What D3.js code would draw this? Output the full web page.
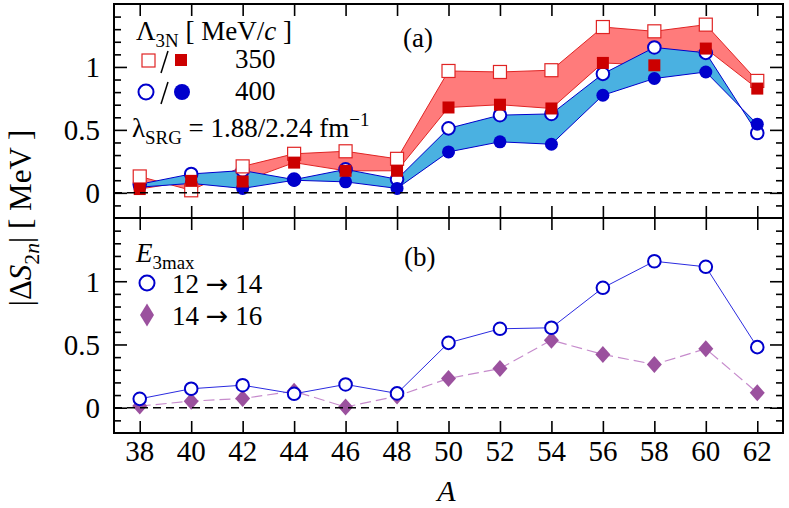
<!DOCTYPE html>
<html>
<head>
<meta charset="utf-8">
<script src="https://cdn.jsdelivr.net/npm/d3@7/dist/d3.min.js"></script>
<style>
  body { margin: 0; background: #fff; }
  svg { display: block; }
</style>
</head>
<body>
<svg id="chart" width="789" height="508"></svg>
<script>
'use strict';

// mass numbers
var massNumbers = [38, 40, 42, 44, 46, 48, 50, 52, 54, 56, 58, 60, 62];

// panel (a): Lambda_3N = 350 MeV/c, open = lambda 1.88, filled = lambda 2.24
var open350   = [0.13, 0.02, 0.21, 0.31, 0.33, 0.27, 0.968, 0.96, 0.974, 1.317, 1.283, 1.336, 0.889];
var filled350 = [0.03, 0.095, 0.09, 0.24, 0.175, 0.175, 0.678, 0.70, 0.67, 1.032, 1.013, 1.146, 0.828];
// panel (a): Lambda_3N = 400 MeV/c
var open400   = [0.068, 0.15, 0.177, 0.105, 0.186, 0.108, 0.512, 0.617, 0.627, 0.945, 1.155, 1.112, 0.475];
var filled400 = [0.045, 0.075, 0.035, 0.10, 0.087, 0.035, 0.325, 0.405, 0.386, 0.775, 0.908, 0.96, 0.545];

// panel (b): E3max convergence
var e3max12to14 = [0.07, 0.15, 0.178, 0.11, 0.184, 0.113, 0.513, 0.624, 0.632, 0.948, 1.158, 1.114, 0.479];
var e3max14to16 = [0.013, 0.052, 0.073, 0.131, 0.005, 0.092, 0.231, 0.31, 0.534, 0.421, 0.342, 0.466, 0.118];

var majorTicksY = [0, 0.5, 1];
var minorTicksY = [-0.1, 0.1, 0.2, 0.3, 0.4, 0.6, 0.7, 0.8, 0.9, 1.1, 1.2, 1.3, 1.4];

var FONT = '"Liberation Serif", "DejaVu Serif", "Noto Serif", "Times New Roman", serif';

var svg = d3.select('#chart').attr('font-family', FONT);

var left = 114, right = 783;
var x = d3.scaleLinear().domain([37, 63]).range([left, right]);
var yTop = d3.scaleLinear().domain([-0.2, 1.5]).range([218, 4]);
var yBot = d3.scaleLinear().domain([-0.2, 1.5]).range([433, 218]);

var redBand = '#ff7b7b', redLine = '#e02424', redDark = '#cc0000';
var blueBand = '#4ab1e1', blueLine = '#0000cc';
var purple = '#9b519e', purpleLine = '#c68bcc';

function seq(vals) {
    return vals.map(function(v, i) { return { a: massNumbers[i], v: v }; });
}

function txt(g, xp, yp, size) {
    return g.append('text').attr('x', xp).attr('y', yp)
        .style('font-family', FONT).style('font-size', size + 'px').attr('fill', '#000');
}

// rich text helper: parts = [text, {t, sub, sup, it, font}]
function rich(sel, parts, size) {
    var back = 0;
    parts.forEach(function(p) {
        if (typeof p === 'string') p = { t: p };
        var ts = sel.append('tspan').text(p.t);
        var dy = back;
        back = 0;
        if (p.it) ts.style('font-style', 'italic');
        if (p.font) ts.style('font-family', p.font);
        if (p.sub) {
            dy += size * 0.25; back = -size * 0.25;
            ts.style('font-size', (size * 0.7) + 'px');
        }
        if (p.sup) {
            dy -= size * 0.4; back = size * 0.4;
            ts.style('font-size', (size * 0.7) + 'px');
        }
        if (dy) ts.attr('dy', dy);
    });
    return sel;
}

function drawAxes(g, y) {
    var h = y.range();
    var xa = d3.axisBottom(x).tickValues(massNumbers).tickSizeInner(-12).tickSizeOuter(0).tickFormat('');
    var xt = d3.axisTop(x).tickValues(massNumbers).tickSizeInner(-12).tickSizeOuter(0).tickFormat('');
    g.append('g').attr('transform', 'translate(0,' + h[0] + ')').call(xa);
    g.append('g').attr('transform', 'translate(0,' + h[1] + ')').call(xt);

    var yl = d3.axisLeft(y).tickValues(majorTicksY).tickSizeInner(-13).tickSizeOuter(0).tickPadding(14).tickFormat(d3.format('~g'));
    var ylm = d3.axisLeft(y).tickValues(minorTicksY).tickSizeInner(-7).tickSizeOuter(0).tickFormat('');
    var yr = d3.axisRight(y).tickValues(majorTicksY).tickSizeInner(-13).tickSizeOuter(0).tickFormat('');
    var yrm = d3.axisRight(y).tickValues(minorTicksY).tickSizeInner(-7).tickSizeOuter(0).tickFormat('');
    g.append('g').attr('class', 'ylab').attr('transform', 'translate(' + left + ',0)').call(yl);
    g.append('g').attr('transform', 'translate(' + left + ',0)').call(ylm);
    g.append('g').attr('transform', 'translate(' + right + ',0)').call(yr);
    g.append('g').attr('transform', 'translate(' + right + ',0)').call(yrm);

    g.selectAll('.domain').remove();
    g.selectAll('.tick line').attr('stroke', '#000').attr('stroke-width', 1.6);
    g.selectAll('.ylab text').style('font-size', '29px').style('font-family', FONT)
        .attr('fill', '#000').attr('dy', '0.34em');

    // zero line
    g.append('line')
        .attr('x1', left).attr('x2', right)
        .attr('y1', y(0)).attr('y2', y(0))
        .attr('stroke', '#000').attr('stroke-width', 1.6)
        .attr('stroke-dasharray', '8,5');
}

function band(g, y, upper, lower, fill, stroke) {
    var data = massNumbers.map(function(a, i) { return { a: a, hi: upper[i], lo: lower[i] }; });
    g.append('path').datum(data)
        .attr('d', d3.area().x(function(d) { return x(d.a); })
            .y0(function(d) { return y(d.lo); }).y1(function(d) { return y(d.hi); }))
        .attr('fill', fill).attr('stroke', 'none');
    var line = d3.line().x(function(d) { return x(d.a); }).y(function(d) { return y(d.v); });
    [upper, lower].forEach(function(s) {
        g.append('path').datum(seq(s)).attr('d', line)
            .attr('fill', 'none').attr('stroke', stroke).attr('stroke-width', 1);
    });
}

function squares(g, y, vals, size, fill, stroke, sw) {
    g.append('g').selectAll('rect').data(seq(vals)).enter().append('rect')
        .attr('x', function(d) { return x(d.a) - size / 2; })
        .attr('y', function(d) { return y(d.v) - size / 2; })
        .attr('width', size).attr('height', size)
        .attr('fill', fill).attr('stroke', stroke).attr('stroke-width', sw);
}

function circles(g, y, vals, r, fill, stroke, sw) {
    g.append('g').selectAll('circle').data(seq(vals)).enter().append('circle')
        .attr('cx', function(d) { return x(d.a); })
        .attr('cy', function(d) { return y(d.v); })
        .attr('r', r)
        .attr('fill', fill).attr('stroke', stroke).attr('stroke-width', sw);
}

function diamondPath(w, h) {
    return 'M0,' + (-h / 2) + 'L' + (w / 2) + ',0L0,' + (h / 2) + 'L' + (-w / 2) + ',0Z';
}

// ---------- panel (a) ----------
var ga = svg.append('g');
band(ga, yTop, open350, filled350, redBand, redLine);
band(ga, yTop, open400, filled400, blueBand, blueLine);
circles(ga, yTop, open400, 6.3, '#fff', blueLine, 2);
circles(ga, yTop, filled400, 6.5, blueLine, 'none', 0);
squares(ga, yTop, open350, 13, '#fff', redLine, 1.2);
squares(ga, yTop, filled350, 12, redDark, 'none', 0);
drawAxes(ga, yTop);

// legend (a)
rich(txt(ga, 136, 40, 27), ['\u039b', { t: '3N', sub: true }, ' [ MeV/', { t: 'c', it: true }, ' ]'], 27);
ga.append('rect').attr('x', 142).attr('y', 54).attr('width', 13).attr('height', 13)
    .attr('fill', '#fff').attr('stroke', redLine).attr('stroke-width', 1.2);
ga.append('line').attr('x1', 161).attr('y1', 73).attr('x2', 168).attr('y2', 51)
    .attr('stroke', '#000').attr('stroke-width', 1.5);
ga.append('rect').attr('x', 175).attr('y', 54).attr('width', 12).attr('height', 12).attr('fill', redDark);
txt(ga, 235, 68, 27).text('350');
ga.append('circle').attr('cx', 146).attr('cy', 92).attr('r', 7.5)
    .attr('fill', '#fff').attr('stroke', blueLine).attr('stroke-width', 2);
ga.append('line').attr('x1', 161).attr('y1', 104).attr('x2', 168).attr('y2', 82)
    .attr('stroke', '#000').attr('stroke-width', 1.5);
ga.append('circle').attr('cx', 182).attr('cy', 92).attr('r', 8).attr('fill', blueLine);
txt(ga, 235, 100, 27).text('400');
rich(txt(ga, 132, 137, 27), ['\u03bb', { t: 'SRG', sub: true }, ' = 1.88/2.24 fm', { t: '\u22121', sup: true }], 27);
txt(ga, 403, 47, 27).text('(a)');

// ---------- panel (b) ----------
var gb = svg.append('g');
var lineB = d3.line().x(function(d) { return x(d.a); }).y(function(d) { return yBot(d.v); });
gb.append('path').datum(seq(e3max14to16)).attr('d', lineB)
    .attr('fill', 'none').attr('stroke', purpleLine).attr('stroke-width', 1.2)
    .attr('stroke-dasharray', '11,5');
gb.append('path').datum(seq(e3max12to14)).attr('d', lineB)
    .attr('fill', 'none').attr('stroke', '#2b2be0').attr('stroke-width', 1);
gb.append('g').selectAll('path').data(seq(e3max14to16)).enter().append('path')
    .attr('transform', function(d) { return 'translate(' + x(d.a) + ',' + yBot(d.v) + ')'; })
    .attr('d', diamondPath(15, 17)).attr('fill', purple);
circles(gb, yBot, e3max12to14, 6.3, '#fff', blueLine, 2);
drawAxes(gb, yBot);

// legend (b)
var ARROW = '"DejaVu Sans", sans-serif';
rich(txt(gb, 136, 262, 27), [{ t: 'E', it: true }, { t: '3max', sub: true }], 27);
gb.append('circle').attr('cx', 147).attr('cy', 283).attr('r', 7.5)
    .attr('fill', '#fff').attr('stroke', blueLine).attr('stroke-width', 2);
rich(txt(gb, 172, 293, 27), ['12 ', { t: '\u2192', font: ARROW }, ' 14'], 27);
gb.append('path').attr('transform', 'translate(147,315)').attr('d', diamondPath(14, 23)).attr('fill', purple);
rich(txt(gb, 172, 325, 27), ['14 ', { t: '\u2192', font: ARROW }, ' 16'], 27);
txt(gb, 404, 266, 27).text('(b)');

// x tick labels (bottom only)
svg.append('g').selectAll('text').data(massNumbers).enter().append('text')
    .attr('x', function(d) { return x(d); }).attr('y', 461)
    .attr('text-anchor', 'middle').style('font-family', FONT).style('font-size', '29px')
    .text(function(d) { return d; });

// frame
svg.append('rect').attr('x', left).attr('y', 4).attr('width', right - left).attr('height', 429)
    .attr('fill', 'none').attr('stroke', '#000').attr('stroke-width', 2);
svg.append('line').attr('x1', left).attr('x2', right).attr('y1', 218).attr('y2', 218)
    .attr('stroke', '#000').attr('stroke-width', 2);

// axis titles
rich(txt(svg, 0, 0, 31).attr('transform', 'translate(31,218) rotate(-90)').attr('text-anchor', 'middle'),
    ['|\u0394', { t: 'S', it: true }, { t: '2', sub: true }, { t: 'n', sub: true, it: true }, '| [ MeV ]'], 31);
txt(svg, (left + right) / 2 - 2, 501, 30).attr('text-anchor', 'middle').style('font-style', 'italic').text('A');
</script>
</body>
</html>
